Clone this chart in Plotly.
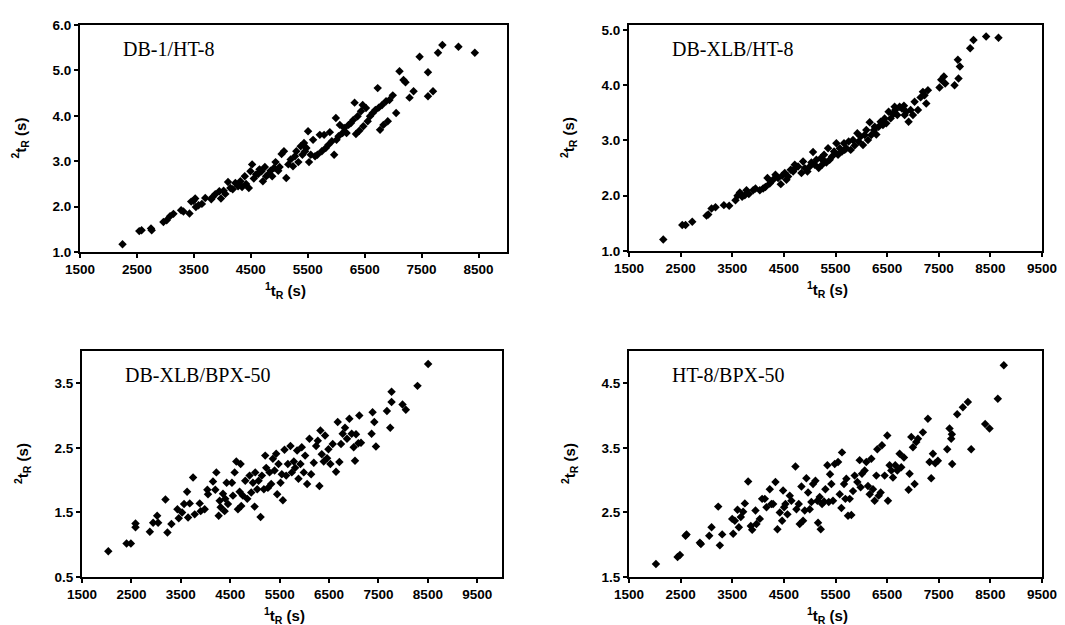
import plotly.graph_objects as go

# ---------------- Data ----------------
p1_x = [2247, 2541, 2582, 2747, 2759, 2965, 3023, 3082, 3141, 3276, 3317, 3423, 3453, 3494, 3523, 3535,
        3582, 3641, 3700, 3806, 3829, 3876, 3947, 3976, 4023, 4053, 4100, 4141, 4182, 4229, 4276, 4317,
        4347, 4394, 4417, 4465, 4494, 4523, 4553, 4594, 4629, 4653, 4688, 4712, 4747, 4770, 4806, 4847,
        4876, 4906, 4935, 4982, 5006, 5041, 5082, 5123, 5159, 5200, 5241, 5276, 5300, 5335, 5376, 5406,
        5435, 5453, 5476, 5506, 5523, 5553, 5594, 5629, 5670, 5712, 5747, 5788, 5817, 5864, 5888, 5923,
        5964, 5994, 6006, 6041, 6064, 6112, 6141, 6182, 6217, 6259, 6300, 6323, 6347, 6376, 6406, 6435,
        6465, 6476, 6523, 6553, 6594, 6641, 6688, 6729, 6747, 6770, 6806, 6829, 6876, 6906, 6935, 6994,
        7053, 7112, 7182, 7217, 7288, 7359, 7465, 7612, 7612, 7700, 7788, 7865, 8147, 8435]
p1_y = [1.17, 1.46, 1.48, 1.52, 1.48, 1.66, 1.70, 1.79, 1.84, 1.92, 1.89, 1.85, 2.11, 2.13, 2.18, 1.99,
        2.03, 2.06, 2.19, 2.16, 2.21, 2.27, 2.34, 2.18, 2.35, 2.28, 2.54, 2.41, 2.38, 2.52, 2.45, 2.56,
        2.43, 2.67, 2.50, 2.41, 2.78, 2.93, 2.62, 2.71, 2.72, 2.82, 2.78, 2.56, 2.87, 2.67, 2.71, 2.79,
        2.67, 2.85, 2.98, 2.79, 2.87, 3.16, 3.22, 2.63, 2.93, 3.04, 2.89, 3.11, 3.22, 2.98, 3.33, 3.14,
        3.40, 3.22, 3.29, 3.66, 2.98, 3.14, 3.47, 3.11, 3.14, 3.58, 3.22, 3.58, 3.29, 3.36, 3.64, 3.44,
        3.14, 3.95, 3.47, 3.55, 3.80, 3.62, 3.73, 3.62, 3.80, 3.84, 3.91, 4.29, 3.60, 3.99, 3.67, 4.10,
        4.24, 3.77, 4.17, 3.88, 3.99, 4.06, 4.13, 4.61, 4.18, 3.69, 4.24, 3.80, 4.32, 3.88, 4.35, 4.45,
        4.06, 4.98, 4.79, 4.74, 4.40, 4.54, 5.30, 4.96, 4.43, 4.54, 5.39, 5.56, 5.52, 5.39]

p2_x = [2164, 2532, 2596, 2725, 3002, 3035, 3099, 3176, 3338, 3441, 3563, 3602, 3647, 3692, 3744, 3776,
        3821, 3905, 3950, 4034, 4098, 4143, 4182, 4227, 4292, 4337, 4388, 4440, 4466, 4517, 4550, 4582,
        4633, 4679, 4711, 4724, 4775, 4840, 4872, 4904, 4956, 5001, 5033, 5065, 5098, 5130, 5175, 5214,
        5240, 5259, 5278, 5323, 5356, 5388, 5433, 5472, 5517, 5550, 5582, 5626, 5665, 5678, 5710, 5755,
        5794, 5839, 5871, 5923, 5949, 5987, 6033, 6065, 6097, 6129, 6162, 6194, 6246, 6259, 6291, 6336,
        6375, 6419, 6452, 6484, 6529, 6568, 6613, 6645, 6658, 6697, 6742, 6787, 6826, 6839, 6871, 6916,
        6955, 7000, 7032, 7097, 7148, 7193, 7225, 7258, 7290, 7515, 7548, 7599, 7625, 7806, 7870, 7883,
        7909, 8109, 8173, 8418, 8657]
p2_y = [1.21, 1.47, 1.47, 1.53, 1.64, 1.66, 1.77, 1.79, 1.83, 1.82, 1.92, 2.00, 2.06, 1.98, 2.01, 2.10,
        2.03, 2.10, 2.13, 2.10, 2.13, 2.16, 2.32, 2.22, 2.29, 2.38, 2.32, 2.21, 2.36, 2.41, 2.29, 2.35,
        2.47, 2.44, 2.56, 2.50, 2.53, 2.41, 2.62, 2.50, 2.44, 2.53, 2.60, 2.79, 2.56, 2.65, 2.50, 2.68,
        2.56, 2.65, 2.74, 2.60, 2.86, 2.65, 2.71, 2.80, 2.95, 2.74, 2.86, 2.80, 2.95, 2.83, 2.86, 2.98,
        2.83, 3.01, 2.91, 3.13, 2.98, 3.07, 2.92, 3.10, 3.19, 3.01, 3.33, 3.10, 3.19, 3.25, 3.11, 3.25,
        3.34, 3.28, 3.40, 3.31, 3.52, 3.40, 3.47, 3.61, 3.55, 3.46, 3.61, 3.58, 3.63, 3.46, 3.52, 3.34,
        3.55, 3.46, 3.70, 3.55, 3.78, 3.88, 3.82, 3.67, 3.91, 3.96, 4.10, 4.16, 4.03, 4.00, 4.46, 4.12,
        4.34, 4.67, 4.82, 4.88, 4.86]

p3_x = [2032, 2402, 2489, 2583, 2583, 2873, 2940, 3021, 3041, 3189, 3229, 3310, 3431, 3458, 3526, 3566,
        3627, 3647, 3680, 3748, 3781, 3882, 3902, 3983, 4037, 4050, 4151, 4198, 4219, 4266, 4286, 4306,
        4353, 4387, 4400, 4427, 4454, 4535, 4555, 4589, 4623, 4656, 4690, 4710, 4723, 4757, 4804, 4845,
        4892, 4925, 4959, 4993, 5006, 5047, 5074, 5114, 5141, 5181, 5208, 5228, 5262, 5296, 5329, 5363,
        5397, 5430, 5450, 5477, 5518, 5544, 5565, 5598, 5632, 5666, 5719, 5746, 5787, 5814, 5854, 5881,
        5921, 5948, 5989, 6016, 6056, 6103, 6137, 6191, 6238, 6272, 6305, 6325, 6352, 6392, 6419, 6460,
        6487, 6527, 6574, 6641, 6675, 6709, 6742, 6776, 6823, 6863, 6911, 6958, 6998, 7025, 7045, 7092,
        7112, 7146, 7361, 7381, 7416, 7449, 7671, 7738, 7765, 7765, 7987, 8054, 8290, 8505]
p3_y = [0.90, 1.02, 1.02, 1.27, 1.33, 1.20, 1.34, 1.45, 1.34, 1.70, 1.19, 1.32, 1.55, 1.41, 1.50, 1.63,
        1.82, 1.42, 1.64, 2.04, 1.47, 1.64, 1.52, 1.55, 1.85, 1.78, 1.98, 1.85, 2.12, 1.45, 1.68, 1.58,
        1.79, 1.52, 1.71, 1.96, 1.63, 1.96, 1.76, 2.12, 2.29, 1.55, 1.82, 2.25, 1.60, 1.76, 1.99, 1.71,
        2.07, 1.81, 1.96, 1.59, 2.12, 1.86, 1.99, 1.43, 2.07, 1.86, 2.38, 2.19, 1.88, 2.12, 1.94, 2.33,
        2.15, 2.41, 1.78, 2.25, 1.96, 2.09, 1.69, 2.47, 2.07, 2.25, 2.53, 2.12, 2.29, 2.19, 2.46, 2.02,
        2.25, 2.51, 2.12, 2.38, 1.94, 2.64, 2.09, 2.27, 2.53, 2.61, 1.91, 2.77, 2.40, 2.29, 2.69, 2.34,
        2.48, 2.25, 2.56, 2.13, 2.90, 2.28, 2.56, 2.72, 2.81, 2.64, 2.95, 2.72, 2.51, 2.30, 2.71, 2.57,
        3.00, 2.58, 2.72, 3.05, 2.90, 2.52, 3.07, 2.81, 3.21, 3.37, 3.17, 3.09, 3.46, 3.80]

p4_x = [2022, 2441, 2487, 2596, 2615, 2873, 2893, 3054, 3099, 3228, 3260, 3305, 3518, 3499, 3550, 3602,
        3628, 3666, 3711, 3744, 3808, 3860, 3886, 3950, 3969, 4034, 4079, 4131, 4163, 4227, 4259, 4292,
        4337, 4375, 4421, 4466, 4485, 4505, 4530, 4569, 4614, 4646, 4724, 4743, 4788, 4807, 4840, 4872,
        4904, 4936, 4969, 5001, 5033, 5065, 5111, 5149, 5162, 5194, 5214, 5240, 5278, 5304, 5343, 5369,
        5394, 5420, 5452, 5485, 5550, 5582, 5614, 5626, 5665, 5691, 5710, 5742, 5775, 5807, 5839, 5871,
        5923, 5968, 5987, 6013, 6065, 6097, 6129, 6162, 6194, 6226, 6258, 6291, 6310, 6336, 6375, 6400,
        6452, 6503, 6516, 6548, 6581, 6613, 6658, 6697, 6742, 6774, 6826, 6916, 6935, 6968, 7000, 7032,
        7064, 7097, 7193, 7290, 7322, 7354, 7387, 7432, 7483, 7664, 7709, 7741, 7754, 7760, 7857, 7967,
        8064, 8128, 8399, 8483, 8644, 8760]
p4_y = [1.70, 1.81, 1.84, 2.14, 2.16, 2.03, 2.01, 2.14, 2.27, 2.59, 1.99, 2.16, 2.17, 2.40, 2.37, 2.54,
        2.27, 2.43, 2.51, 2.64, 2.98, 2.29, 2.23, 2.53, 2.32, 2.40, 2.71, 2.71, 2.58, 2.86, 2.63, 2.63,
        2.97, 2.24, 2.50, 2.37, 2.84, 2.58, 2.63, 2.47, 2.76, 2.68, 3.21, 2.55, 2.63, 2.32, 2.90, 2.37,
        2.53, 3.03, 2.81, 2.55, 2.66, 2.94, 2.99, 2.68, 2.34, 2.74, 2.24, 2.63, 2.67, 2.86, 3.23, 2.66,
        3.09, 2.94, 2.68, 3.25, 3.28, 2.78, 2.57, 3.43, 2.94, 2.71, 3.02, 2.45, 2.71, 2.46, 2.83, 3.07,
        2.97, 3.31, 2.89, 3.10, 3.15, 3.28, 2.91, 2.78, 3.33, 2.86, 2.68, 3.07, 3.48, 2.76, 2.81, 3.54,
        3.07, 3.69, 2.68, 3.23, 3.15, 3.04, 3.23, 3.15, 3.41, 3.20, 3.35, 2.85, 3.10, 3.67, 3.51, 2.94,
        3.59, 3.64, 3.74, 3.95, 3.28, 3.03, 3.41, 3.26, 3.30, 3.48, 3.80, 3.64, 3.71, 3.25, 4.02, 4.13,
        4.21, 3.48, 3.87, 3.80, 4.26, 4.78]

panel_labels = ["DB-1/HT-8", "DB-XLB/HT-8", "DB-XLB/BPX-50", "HT-8/BPX-50"]
x_ranges = [[1500, 9000], [1500, 9500], [1500, 10000], [1500, 9500]]
y_ranges = [[1.0, 6.0], [1.0, 5.09], [0.5, 4.0], [1.5, 5.0]]
x_tick_vals = [[1500, 2500, 3500, 4500, 5500, 6500, 7500, 8500],
               [1500, 2500, 3500, 4500, 5500, 6500, 7500, 8500, 9500],
               [1500, 2500, 3500, 4500, 5500, 6500, 7500, 8500, 9500],
               [1500, 2500, 3500, 4500, 5500, 6500, 7500, 8500, 9500]]
y_tick_vals = [[1.0, 2.0, 3.0, 4.0, 5.0, 6.0],
               [1.0, 2.0, 3.0, 4.0, 5.0],
               [0.5, 1.5, 2.5, 3.5],
               [1.5, 2.5, 3.5, 4.5]]
x_title = "<b><sup>1</sup>t<sub>R</sub> (s)</b>"
y_title = "<b><sup>2</sup>t<sub>R</sub> (s)</b>"

# ---------------- Layout geometry (pixels) ----------------
W, H = 1065, 625
boxes = [(72, 499, 17, 244), (621, 1034, 17, 243), (74, 494, 343, 569), (621, 1034, 343, 569)]

fig = go.Figure()
series = [(p1_x, p1_y), (p2_x, p2_y), (p3_x, p3_y), (p4_x, p4_y)]
tick_font = dict(family="Liberation Sans, Arial, sans-serif", size=13.5, color="black", weight=700)

annotations = []
for i, ((xs, ys), (l, r, t, b)) in enumerate(zip(series, boxes)):
    n = "" if i == 0 else str(i + 1)
    fig.add_trace(go.Scatter(
        x=xs, y=ys, mode="markers", xaxis="x" + n, yaxis="y" + n,
        marker=dict(symbol="diamond", size=6.5, color="black", line=dict(width=0)),
        showlegend=False, hoverinfo="x+y"))
    common = dict(showline=True, linecolor="black", linewidth=1.8, mirror=True,
                  ticks="outside", ticklen=4, tickwidth=1.5, tickcolor="black",
                  showgrid=False, zeroline=False, tickfont=tick_font,
                  tickmode="array", automargin=False, fixedrange=True)
    xa = dict(domain=[l / W, r / W], range=x_ranges[i],
              tickvals=x_tick_vals[i], ticktext=["<b>%d</b>" % v for v in x_tick_vals[i]],
              anchor="y" + n, **common)
    ya = dict(domain=[1 - b / H, 1 - t / H], range=y_ranges[i],
              tickvals=y_tick_vals[i], ticktext=["<b>%.1f</b>" % v for v in y_tick_vals[i]],
              anchor="x" + n, **common)
    fig.update_layout(**{"xaxis" + n: xa, "yaxis" + n: ya})

    # panel label
    annotations.append(dict(text=panel_labels[i], x=(l + 41) / W, y=1 - (t + 24) / H,
                            xref="paper", yref="paper", xanchor="left", yanchor="middle",
                            showarrow=False,
                            font=dict(family="Liberation Serif, Times New Roman, serif",
                                      size=20, color="black")))
    # axis titles
    annotations.append(dict(text=x_title, x=((l + r) / 2 - 8) / W, y=1 - (b + 38) / H,
                            xref="paper", yref="paper", xanchor="center", yanchor="middle",
                            showarrow=False,
                            font=dict(family="Liberation Sans, Arial, sans-serif", size=15, color="black")))
    annotations.append(dict(text=y_title, x=(l - 60) / W, y=1 - ((t + b) / 2) / H,
                            xref="paper", yref="paper", xanchor="center", yanchor="middle",
                            textangle=-90, showarrow=False,
                            font=dict(family="Liberation Sans, Arial, sans-serif", size=15, color="black")))

fig.update_layout(width=W, height=H, margin=dict(l=0, r=0, t=0, b=0),
                  paper_bgcolor="white", plot_bgcolor="white",
                  annotations=annotations, showlegend=False)

fig.write_html("out.html")
